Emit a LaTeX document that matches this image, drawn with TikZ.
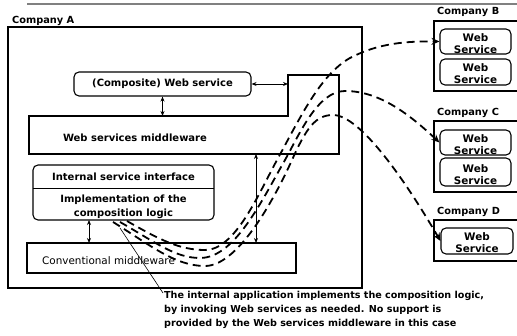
\documentclass[tikz,border=0pt]{standalone}
\usepackage{fontspec}
\setmainfont{DejaVu Sans}
\usetikzlibrary{arrows.meta}
\begin{document}
\begin{tikzpicture}[x=1pt,y=-1pt,
  box/.style={draw, line width=1.1pt, inner sep=0pt},
  rbox/.style={box, rounded corners=5pt},
  txt/.style={inner sep=0pt, font=\fontsize{10}{14}\selectfont\bfseries, align=center},
  wst/.style={inner sep=0pt, font=\fontsize{10.4}{12.2}\selectfont\bfseries, align=center},
  clbl/.style={inner sep=0pt, anchor=west, font=\fontsize{9.8}{11}\selectfont\bfseries},
  dbl/.style={{Stealth[length=5pt,width=4pt]}-{Stealth[length=5pt,width=4pt]}, line width=0.9pt},
  call/.style={line width=1.8pt, dash pattern=on 8pt off 5pt, -{Stealth[length=8pt,width=7pt]}},
  ws/.style={rbox, minimum width=71pt, minimum height=25pt}
]
\useasboundingbox (0,0) rectangle (517,336);
% top rule
\coordinate (r1) at (27,4);
\coordinate (r2) at (517,4);
\draw[gray, line width=1.4pt] (r1) -- (r2);

% Company A
\node[clbl] (lA) at (12,21) {Company A};
\node[box, minimum width=354pt, minimum height=261pt] (A) at (185,157.5) {};

% composite web service
\node[rbox, minimum width=177pt, minimum height=24pt, txt] (comp) at (162.5,84) {(Composite) Web service};

% web services middleware polygon
\coordinate (m1) at (29,116);
\coordinate (m2) at (288,116);
\coordinate (m3) at (288,75);
\coordinate (m4) at (339,75);
\coordinate (m5) at (339,154);
\coordinate (m6) at (29,154);
\draw[line width=1.1pt] (m1) -- (m2) -- (m3) -- (m4) -- (m5) -- (m6) -- cycle;
\node[txt] (mwt) at (135,138) {Web services middleware};
\coordinate (mwtop) at (162.5,116);
\coordinate (mwstep) at (288,84);
\coordinate (mwbot) at (256,154);

% internal service interface
\node[rbox, minimum width=181pt, minimum height=55pt] (isi) at (123.5,192.5) {};
\coordinate (d1) at (33,189);
\coordinate (d2) at (214,189);
\draw[line width=1pt] (d1) -- (d2);
\node[txt] (isit) at (123.5,177) {Internal service interface};
\node[txt] (impl) at (123.5,206.5) {Implementation of the\\composition logic};

% conventional middleware
\node[draw, line width=2.4pt, minimum width=269pt, minimum height=30pt, inner sep=0pt] (conv) at (161.5,258) {};
\node[inner sep=0pt, anchor=west, font=\fontsize{10.4}{12}\selectfont] (convt) at (42,261) {Conventional middleware};
\coordinate (a1) at (89,220);
\coordinate (a2) at (89,243);
\coordinate (cb) at (256,243);

% double arrows
\draw[dbl] (comp.south) -- (mwtop);
\draw[dbl] (comp.east) -- (mwstep);
\draw[dbl] (mwbot) -- (cb);
\draw[dbl] (a1) -- (a2);

% Company B
\node[clbl] (lB) at (437,12) {Company B};
\node[box, minimum width=86pt, minimum height=70pt] (B) at (477,56) {};
\node[ws] (b1) at (475.5,41.5) {};
\node[wst] (b1t) at ([yshift=-2pt]b1.center) {Web\\Service};
\node[ws, minimum height=26pt] (b2) at (475.5,72) {};
\node[wst] (b2t) at ([yshift=-2pt]b2.center) {Web\\Service};

% Company C
\node[clbl] (lC) at (437,113) {Company C};
\node[box, minimum width=86pt, minimum height=71pt] (C) at (477,156.5) {};
\node[ws] (c1) at (475.5,142.5) {};
\node[wst] (c1t) at ([yshift=-2pt]c1.center) {Web\\Service};
\node[ws, minimum height=28pt] (c2) at (475.5,172) {};
\node[wst] (c2t) at ([yshift=-3pt]c2.center) {Web\\Service};

% Company D
\node[clbl] (lD) at (437,212) {Company D};
\node[box, minimum width=86pt, minimum height=41pt] (D) at (477,240.5) {};
\node[ws, minimum width=72pt, minimum height=26pt] (d1b) at (477,241) {};
\node[wst] (d1t) at ([yshift=-2pt]d1b.center) {Web\\Service};

% dashed invocation curves
\coordinate (sB) at (127,221);
\coordinate (sC) at (120,222);
\coordinate (sD) at (113,222);
\draw[call] (sB) .. controls (160,240) and (180,250) .. (205,250)
  .. controls (235,250) and (258,195) .. (277,160)
  .. controls (300,118) and (320,75) .. (350,58)
  .. controls (375,45) and (400,41) .. (b1.west);
\draw[call] (sC) .. controls (155,242) and (175,258) .. (200,258)
  .. controls (235,258) and (262,200) .. (285,160)
  .. controls (300,133) and (318,91) .. (345,91)
  .. controls (380,91) and (410,115) .. (c1.west);
\draw[call] (sD) .. controls (150,245) and (175,266) .. (205,266)
  .. controls (240,266) and (278,191) .. (292,160)
  .. controls (306,129) and (315,115) .. (333,115)
  .. controls (360,115) and (405,180) .. (d1b.west);

% annotation
\coordinate (n1) at (120,228);
\coordinate (n2) at (163,293);
\draw[line width=0.6pt] (n1) -- (n2);
\node[anchor=north west, inner sep=0pt, align=left, font=\fontsize{9.6}{13.8}\selectfont\bfseries] (note) at (164,291)
  {The internal application implements the composition logic,\\by invoking Web services as needed. No support is\\provided by the Web services middleware in this case};
\end{tikzpicture}
\end{document}
